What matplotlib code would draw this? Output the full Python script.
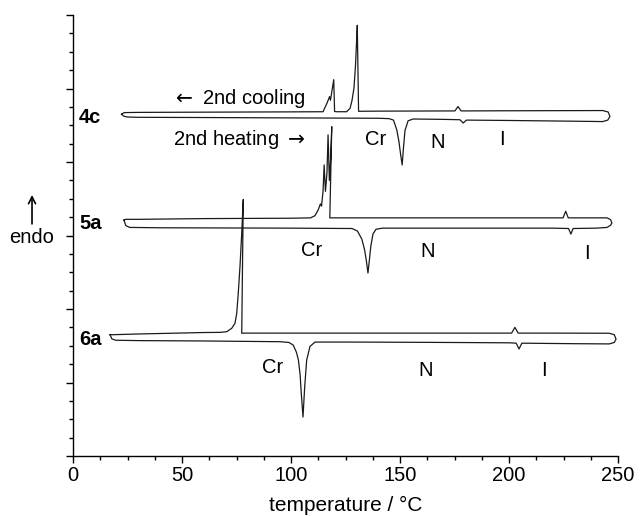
import matplotlib
matplotlib.use("Agg")
import matplotlib.pyplot as plt
import numpy as np

plt.rcParams['font.family'] = ['Liberation Sans', 'DejaVu Sans']
plt.rcParams['mathtext.fontset'] = 'dejavusans'

# ---- data (temperature in degC, heat flow in arbitrary units) ----
T_4c_heat = [22.3, 23.2, 25, 30, 60, 100, 140, 145, 147, 148.5, 149.5, 150.3, 151.0, 151.5, 152.3, 153.7, 156,
             170, 177.5, 178.5, 179, 179.5, 180.5, 200, 230, 243, 245.3, 246.3]
y_4c_heat = [46.5, 46.25, 46.12, 46.08, 46.05, 46.0, 45.95, 45.9, 45.7, 44.4, 42.8, 41.0, 39.6, 41.6, 44.3, 45.6, 45.85,
             45.8, 45.75, 45.45, 45.3, 45.45, 45.7, 45.65, 45.55, 45.5, 45.7, 46.2]
T_4c_cool = [246.3, 245.5, 243, 200, 178, 176.6, 175.2, 140, 131.0, 130.4, 130.0, 129.6, 128.9, 128.0, 127.1, 125.5,
             121, 120.0, 119.6, 118.1, 117.7, 116.5, 114.7, 100, 60, 30, 23.5, 22.3]
y_4c_cool = [46.2, 46.8, 47.0, 46.97, 46.95, 47.55, 46.95, 46.92, 46.9, 58.6, 55.9, 53.2, 50.1, 48.4, 47.3, 46.84,
             46.84, 46.87, 51.2, 48.4, 48.9, 48.0, 46.84, 46.82, 46.78, 46.75, 46.72, 46.5]

T_5a_heat = [23.4, 24.2, 26, 40, 100, 128, 130.5, 132.5, 133.8, 134.6, 135.3, 135.9, 136.6, 137.6, 139, 142,
             180, 220, 227.3, 228.4, 229.4, 240, 245, 246.6, 247.2]
y_5a_heat = [32.1, 31.35, 31.1, 31.05, 31.0, 30.95, 30.6, 29.5, 28.0, 26.5, 24.9, 26.5, 28.5, 30.2, 30.85, 31.0,
             31.0, 31.0, 30.95, 30.2, 30.95, 31.0, 31.1, 31.4, 31.7]
T_5a_cool = [247.2, 246.6, 245, 230, 227.2, 226.0, 224.8, 200, 150, 120, 117.8, 118.7, 118.2, 117.6, 117.0, 116.5,
             115.8, 115.2, 114.7, 114.0, 113.5, 112.5, 111.0, 109, 100, 60, 30, 24.2, 23.4]
y_5a_cool = [31.7, 32.15, 32.4, 32.4, 32.4, 33.3, 32.4, 32.4, 32.4, 32.4, 32.4, 44.8, 40.5, 37.5, 43.7, 38.5,
             36.0, 39.6, 36.0, 34.0, 34.3, 33.5, 32.7, 32.4, 32.35, 32.3, 32.2, 32.2, 32.1]

T_6a_heat = [17.0, 17.8, 19.5, 30, 60, 95, 99, 101, 102.5, 103.4, 104.2, 104.6, 105.5, 106.3, 107.2, 108.7, 111,
             130, 170, 200, 203.3, 204.6, 205.9, 230, 246, 248.3, 249.1]
y_6a_heat = [16.5, 15.95, 15.75, 15.7, 15.65, 15.55, 15.45, 15.1, 14.1, 13.06, 11.0, 9.0, 5.3, 9.5, 13.06, 14.9, 15.5,
             15.5, 15.45, 15.4, 15.35, 14.56, 15.35, 15.28, 15.25, 15.45, 15.9]
T_6a_cool = [249.1, 248.3, 246, 220, 204.2, 202.7, 201.2, 150, 100, 78.5, 77.4, 78.1, 77.4, 76.6, 75.8, 75.1, 74.3,
             72.8, 70.5, 67.4, 60, 30, 18, 17.0]
y_6a_cool = [15.9, 16.5, 16.7, 16.72, 16.72, 17.5, 16.72, 16.72, 16.72, 16.72, 16.7, 34.9, 30.3, 25.8, 22.1, 19.4, 18.05,
             17.37, 16.91, 16.82, 16.8, 16.6, 16.5, 16.5]

samples = ['4c', '5a', '6a']
sample_y = [46.1, 31.7, 15.8]
phase_labels = ['Cr', 'N', 'I']
phase_T = {'4c': [139.0, 167.4, 196.8], '5a': [109.6, 162.8, 235.8], '6a': [91.7, 161.9, 216.0]}
phase_y = {'4c': [43.0, 42.6, 43.0], '5a': [28.0, 27.8, 27.5], '6a': [12.1, 11.7, 11.7]}

x_ticks = [0, 50, 100, 150, 200, 250]

fig = plt.figure(figsize=(6.43, 5.16), dpi=100)
ax = fig.add_axes([73/643, 60/516, 545/643, 441/516])

lc = '#1a1a1a'
for Th, yh, Tc, yc in [(T_4c_heat, y_4c_heat, T_4c_cool, y_4c_cool),
                        (T_5a_heat, y_5a_heat, T_5a_cool, y_5a_cool),
                        (T_6a_heat, y_6a_heat, T_6a_cool, y_6a_cool)]:
    ax.plot(list(Th) + list(Tc), list(yh) + list(yc), color=lc, lw=0.9, solid_joinstyle='round')

ax.set_xlim(0, 250)
ax.set_ylim(0, 60)
ax.set_xticks(x_ticks)
ax.set_xticks(np.arange(0, 250.1, 12.5), minor=True)
ax.set_yticks(np.arange(0, 60.1, 10))
ax.set_yticks(np.arange(0, 60.1, 2.5), minor=True)
ax.set_yticklabels([])
ax.tick_params(axis='both', which='major', length=5, width=1, direction='out', labelsize=14.5, pad=2)
ax.tick_params(axis='both', which='minor', length=3, width=1, direction='out')
for s in ['top', 'right']:
    ax.spines[s].set_visible(False)
for s in ['left', 'bottom']:
    ax.spines[s].set_linewidth(1)
ax.set_xlabel('temperature / °C', fontsize=15, labelpad=8)

for name, yy in zip(samples, sample_y):
    ax.text(2.75, yy, name, fontsize=14.5, fontweight='bold', ha='left', va='center')
for name in samples:
    for lab, tx, ty in zip(phase_labels, phase_T[name], phase_y[name]):
        ax.text(tx, ty, lab, fontsize=14.5, ha='center', va='center')

ax.text(45.3, 48.7, r'$\leftarrow\;$2nd cooling', fontsize=14.5, ha='left', va='center')
ax.text(45.9, 43.1, r'2nd heating$\;\rightarrow$', fontsize=14.5, ha='left', va='center')

ax.text(-19.0, 29.7, 'endo', fontsize=14.5, ha='center', va='center', clip_on=False)
ax.annotate('', xy=(-18.8, 35.9), xytext=(-18.8, 31.2), xycoords='data',
            arrowprops=dict(arrowstyle='->,head_length=0.5,head_width=0.25', lw=1.2, color='black'),
            annotation_clip=False)

fig.savefig('out.png', dpi=100)
